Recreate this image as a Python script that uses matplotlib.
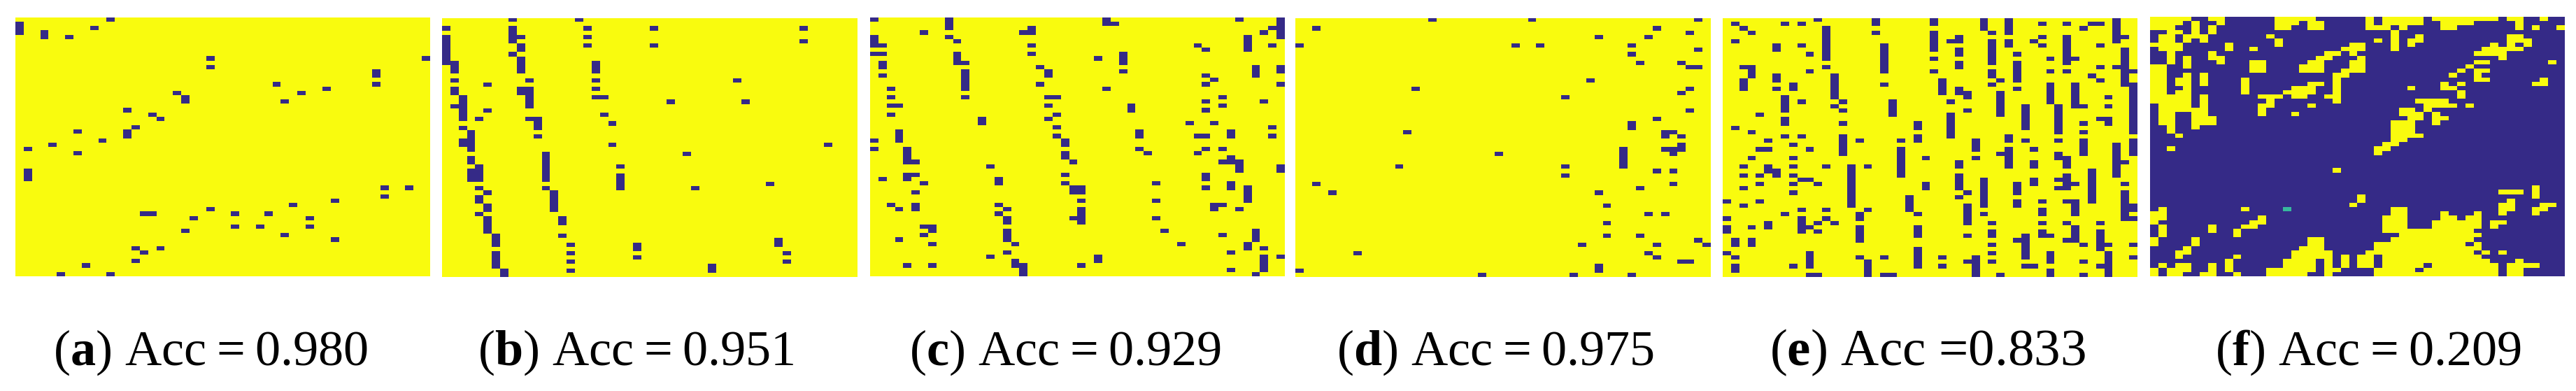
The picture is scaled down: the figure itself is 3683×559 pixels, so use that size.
import numpy as np
import matplotlib
matplotlib.use("Agg")
import matplotlib.pyplot as plt
from matplotlib.colors import ListedColormap

plt.rcParams['font.family'] = ['Liberation Serif', 'DejaVu Serif']
plt.rcParams['mathtext.fontset'] = 'custom'
plt.rcParams['mathtext.bf'] = 'Liberation Serif:bold'
plt.rcParams['mathtext.rm'] = 'Liberation Serif'

n_rows = 60
n_cols = 50

captions = ["($\\mathbf{a}$) Acc\u2009=\u20090.980", "($\\mathbf{b}$) Acc\u2009=\u20090.951", "($\\mathbf{c}$) Acc\u2009=\u20090.929",
            "($\\mathbf{d}$) Acc\u2009=\u20090.975", "($\\mathbf{e}$) Acc =0.833", "($\\mathbf{f}$) Acc\u2009=\u20090.209"]
caption_x = [301, 909, 1523, 2138, 2756, 3386]
caption_size = [52, 52, 52, 52, 54, 52]

# wrong cells as (col, first row, last row)
wrong_a = [(11,0,0),(0,1,3),(9,2,2),(3,3,4),(6,4,4),(23,9,9),(49,9,9),(23,11,11),(43,12,13),(43,15,15),
           (31,15,15),(37,16,16),(34,17,17),(19,17,17),(20,18,19),(32,19,19),(13,21,21),(16,22,22),(17,23,23),
           (14,25,25),(13,26,27),(7,26,26),(10,28,28),(4,29,29),(1,30,30),(7,31,31),(1,35,37),(44,39,39),
           (47,39,39),(44,41,41),(38,42,42),(33,43,43),(23,44,44),(15,45,45),(16,45,45),(26,45,45),(30,45,45),
           (21,46,46),(35,46,46),(26,48,48),(29,48,48),(35,48,48),(20,49,49),(32,50,50),(38,51,51),(14,53,53),
           (17,53,53),(15,54,54),(14,56,56),(8,57,57),(5,59,59),(11,59,59)]

wrong_b = [(8,0,0),(16,0,0),(0,2,2),(8,2,5),(9,4,4),(17,2,2),(17,4,4),(17,6,6),(25,2,2),(25,6,6),(43,2,2),
           (43,5,5),(0,4,10),(9,6,7),(8,8,8),(9,9,12),(1,10,12),(18,10,12),(1,14,14),(10,14,14),(18,14,14),
           (35,14,14),(5,15,15),(1,16,17),(9,16,17),(10,16,20),(18,16,16),(18,18,18),(19,18,18),(2,18,23),
           (1,20,20),(27,19,19),(36,19,19),(5,21,21),(19,22,22),(4,23,23),(10,23,23),(11,23,25),(20,24,24),
           (2,25,25),(3,26,30),(2,28,29),(11,27,27),(20,29,29),(46,29,29),(12,31,37),(29,31,31),(3,32,33),
           (4,34,37),(3,35,37),(21,34,34),(21,36,39),(39,38,38),(4,39,39),(12,39,39),(30,39,39),(5,40,40),
           (13,40,44),(4,41,42),(5,43,44),(4,45,45),(5,46,49),(14,46,47),(14,50,50),(6,50,52),(15,52,52),
           (23,52,53),(40,51,52),(15,54,54),(41,54,54),(23,55,55),(6,54,57),(15,56,56),(41,56,56),(32,57,58),
           (7,58,59),(15,58,58)]

wrong_c = [(0,0,0),(9,0,2),(28,0,1),(29,1,1),(44,0,0),(49,0,4),(19,2,3),(18,3,3),(6,3,3),(48,2,2),(47,3,3),
           (9,4,4),(10,5,5),(0,4,6),(1,6,6),(19,6,6),(39,6,6),(40,7,7),(45,4,7),(48,6,6),(0,8,8),(1,8,8),
           (19,8,8),(10,8,10),(11,10,10),(27,9,9),(30,8,10),(1,10,11),(20,11,11),(21,12,13),(46,11,13),
           (49,11,12),(30,12,12),(11,12,16),(1,13,13),(40,13,13),(41,14,14),(40,15,15),(20,15,15),(49,15,15),
           (2,16,16),(28,16,16),(2,18,18),(11,18,18),(21,18,18),(22,18,18),(42,18,18),(40,19,19),(47,19,19),
           (2,20,20),(3,20,20),(21,20,20),(42,20,20),(31,20,21),(40,21,21),(2,22,22),(22,22,22),(21,23,23),
           (13,23,24),(38,24,24),(41,24,24),(22,25,25),(48,25,25),(3,26,28),(32,26,27),(43,26,27),(22,27,27),
           (39,27,27),(40,27,27),(48,27,27),(0,28,28),(23,28,29),(0,30,30),(4,30,33),(5,33,33),(32,30,30),
           (33,31,31),(40,30,30),(39,31,31),(42,30,30),(23,31,32),(24,33,33),(43,32,33),(42,33,33),(44,33,35),
           (14,34,34),(49,34,35),(4,36,37),(5,36,36),(23,36,36),(40,36,37),(1,37,37),(15,37,38),(6,38,38),
           (23,38,38),(34,38,38),(43,38,39),(24,39,40),(25,39,40),(40,39,39),(45,39,42),(5,40,40),(25,42,42),
           (34,42,42),(2,43,43),(3,44,44),(5,43,44),(15,43,43),(16,44,44),(15,45,45),(16,46,47),(41,43,44),
           (42,43,43),(44,44,44),(25,44,47),(24,46,46),(34,46,46),(6,48,48),(7,48,49),(35,49,49),(6,50,50),
           (42,50,50),(46,49,51),(16,49,51),(3,51,51),(7,52,52),(17,52,52),(37,52,52),(45,52,53),(47,53,53),
           (16,54,54),(43,54,54),(14,55,55),(27,55,56),(49,55,55),(47,55,58),(17,56,57),(18,57,59),(4,57,57),
           (7,57,57),(25,57,57),(43,58,58),(46,59,59)]

wrong_d = [(16,0,0),(28,0,0),(48,0,0),(2,2,2),(43,2,2),(47,3,3),(36,4,4),(42,4,4),(0,6,6),(26,6,6),(29,6,6),
           (40,6,6),(48,7,7),(40,8,8),(41,10,10),(46,10,10),(47,11,11),(48,11,11),(35,14,14),(14,16,16),
           (47,16,16),(46,17,17),(32,18,18),(47,21,21),(43,23,23),(40,24,25),(13,26,26),(44,26,27),(45,26,26),
           (46,27,27),(46,29,30),(44,30,30),(45,30,31),(24,31,31),(39,30,34),(12,34,34),(32,34,34),(43,35,35),
           (45,35,35),(32,36,36),(2,38,38),(45,38,38),(41,39,39),(4,40,40),(36,40,40),(37,43,43),(42,45,45),
           (44,45,45),(37,47,47),(37,50,50),(41,50,50),(48,51,51),(34,52,52),(43,52,52),(49,52,52),(7,54,54),
           (42,54,54),(43,55,55),(46,56,56),(47,56,56),(36,57,58),(0,58,58),(22,59,59),(33,59,59),(40,59,59)]

wrong_e = [(11,0,0),(18,0,1),(25,0,1),(31,0,2),(34,0,3),(47,0,5),(1,1,1),(7,1,1),(9,1,1),(38,1,1),(41,1,1),
           (44,1,1),(45,1,1),(2,2,2),(43,2,2),(12,2,9),(3,3,3),(18,3,3),(25,3,7),(32,3,3),(28,4,5),(27,5,5),
           (38,4,4),(41,4,10),(48,4,4),(1,5,5),(37,5,5),(32,5,10),(34,5,6),(38,6,6),(6,6,7),(9,6,6),(19,6,12),
           (45,6,6),(28,7,8),(48,7,15),(10,8,8),(35,8,8),(25,9,9),(39,9,9),(42,9,9),(28,10,11),(35,10,14),
           (2,11,11),(3,11,13),(12,11,11),(45,11,11),(47,11,11),(10,12,12),(25,12,12),(39,12,12),(41,12,12),
           (49,12,12),(32,12,13),(6,13,14),(13,13,18),(44,13,13),(2,14,16),(26,14,17),(33,14,14),(45,14,14),
           (8,15,16),(19,15,15),(32,15,15),(39,15,19),(42,15,20),(43,20,20),(49,15,26),(6,16,16),(35,16,16),
           (28,16,17),(29,17,18),(33,17,22),(7,18,21),(46,18,18),(9,19,19),(14,19,19),(27,19,19),(20,19,22),
           (13,20,20),(46,20,20),(40,20,26),(36,20,25),(14,21,21),(29,21,21),(4,22,22),(27,22,27),(7,23,24),
           (45,23,23),(46,23,24),(14,24,24),(43,24,24),(23,24,25),(1,25,25),(3,26,26),(43,26,26),(7,27,27),
           (9,27,27),(14,27,31),(23,27,28),(34,27,28),(5,28,28),(16,28,28),(21,28,28),(30,28,30),(36,28,28),
           (40,28,28),(43,28,31),(49,28,31),(8,29,29),(47,29,36),(4,30,30),(5,30,30),(10,30,30),(21,30,36),
           (34,30,34),(37,30,30),(33,31,31),(40,31,32),(3,32,32),(8,32,32),(24,32,32),(30,32,32),(41,32,34),
           (28,33,34),(37,33,34),(48,33,33),(2,34,34),(5,34,35),(8,34,34),(12,34,34),(15,34,43),(17,34,34),
           (6,35,36),(44,35,42),(2,36,36),(4,36,36),(8,36,36),(28,36,39),(41,36,39),(40,37,37),(42,38,38),
           (40,39,39),(9,37,37),(10,37,37),(31,37,43),(37,37,38),(4,38,38),(8,38,38),(11,38,38),(24,38,39),
           (35,38,40),(48,38,38),(2,39,39),(8,40,40),(29,40,40),(48,40,46),(49,43,44),(49,46,46),(22,41,44),
           (28,41,41),(0,42,42),(4,42,42),(35,42,43),(38,42,42),(41,42,42),(42,42,45),(2,43,43),(29,43,47),
           (9,44,44),(12,44,44),(17,44,44),(38,44,45),(7,45,45),(23,45,45),(31,45,45),(16,45,46),(0,46,46),
           (9,46,49),(12,46,46),(11,47,47),(13,47,47),(32,47,47),(38,47,47),(41,47,47),(45,47,47),(0,48,49),
           (3,48,48),(5,47,48),(10,48,48),(16,48,51),(23,48,50),(42,48,51),(41,51,51),(11,49,49),(32,49,50),
           (38,49,50),(39,50,50),(45,49,53),(29,50,50),(36,50,55),(35,51,51),(1,51,52),(3,51,52),(32,52,52),
           (43,52,52),(46,52,52),(49,52,52),(0,54,54),(10,54,57),(23,53,57),(32,54,54),(39,54,56),(46,54,59),
           (1,55,55),(16,55,55),(19,55,55),(26,55,55),(49,55,55),(30,55,59),(29,56,56),(17,56,59),(32,56,56),
           (43,56,56),(1,57,58),(8,57,57),(26,57,57),(36,57,57),(37,57,57),(45,57,57),(39,58,59),(10,59,59),
           (11,59,59),(19,59,59),(20,59,59),(33,59,59),(43,59,59)]

# panel f is mostly wrong, so keep the correct (yellow) columns per row
right_f = ["0-4 7-8 15-19 26 28-32 34-41 43-44 47",
           "0-3 5 8 15-17 19-20 26 28-32 35-38 44",
           "0-2 5 7 15-16 19-20 26-28 30 35-36 44 46 49",
           "2-3 5 7 29",
           "1-2 4-6 14 29 32 43-44",
           "1-2 4 6 15 27 29 31-32 43-45",
           "0-3 9 15 24-25 29 31 41 43 45",
           "1-3 9 12 23-25 29 40-44",
           "2 7 21-22 24 39-42",
           "2 4 7-8 20-21 25 42",
           "2 4 8 12-13 19-20 24-25 39-40 48",
           "0-1 4 12-13 18-20 24-25 38",
           "0-1 12-13 18-20 23-25 37 39-40",
           "0-1 4 6 22-23 36 39",
           "0-1 3-4 6 11 22 39-40 47",
           "0-1 3-4 6 11 19-20 22 35 37 46-47",
           "0-1 4 11 17-19 22 31 35-36",
           "0-1 3-4 11 16-19 22 37",
           "0-4 6 13-15 17-18 21-22 37",
           "0-4 6 14 22 32-35",
           "1-4 6 13-14 19 33-36 38",
           "1-6 13 30-31 33",
           "1-2 5-6 13 17 30-32 34",
           "1-2 5-7 31-32 34-35",
           "1-2 5-7 29-31 34",
           "2 5 29-31",
           "2 29-31",
           "3 29-32",
           "29-30",
           "28-29",
           "2 27-28",
           "27",
           "", "", "",
           "22",
           "", "", "",
           "46",
           "42-44 46",
           "25 46",
           "25 43",
           "24 42-43 47-48",
           "1 11 29-30 42-43 46-47",
           "0-1 29-30 35 39 42 46",
           "0-1 13 28-30 35-36 38-39",
           "0 12-13 28-30 34-39 41-42",
           "1 7 11-12 28-30 34-39 41",
           "1 7 10 28-38",
           "1 10 30-39",
           "0 5 19-20 29-38",
           "0 5 19-20 27-37 39",
           "4 18-20 27-39",
           "3-4 17-21 26-38 40 42",
           "3 10 17-21 23 25-26 28-39",
           "9 16-19 21 23 25-26 28-40 44",
           "1 3-4 7 9 16-19 21 23 25-26 28-32 34-41 43-46",
           "0 2-4 7 9 14-19 21-22 27-31 33-41 43-44",
           "0 2-3 6-7 10 14-18 21 27-41 43-44"]
teal_f = (44, 16)

# pixel box of each panel in the 3683x559 picture: left, right, top, bottom
boxes = [(22, 615, 25, 395), (632, 1225, 26, 396.5), (1244, 1837, 25, 395),
         (1852, 2445, 26, 396.5), (2463, 3056, 26, 396.5), (3074, 3667, 24, 395)]


def grid_from_wrong(wrong):
    g = np.full((n_rows, n_cols), 2)
    for c, r0, r1 in wrong:
        g[r0:r1 + 1, c] = 0
    return g


def grid_from_right(rows, teal):
    g = np.zeros((n_rows, n_cols), dtype=int)
    for r, s in enumerate(rows):
        for part in s.split():
            a, _, b = part.partition("-")
            g[r, int(a):int(b or a) + 1] = 2
    g[teal] = 1
    return g


grids = [grid_from_wrong(w) for w in (wrong_a, wrong_b, wrong_c, wrong_d, wrong_e)]
grids.append(grid_from_right(right_f, teal_f))

cmap = ListedColormap(["#352A87", "#37B89D", "#F9FB0E"])

W, H = 3683, 559
fig = plt.figure(figsize=(W / 100, H / 100), dpi=100)

for g, box in zip(grids, boxes):
    left, right, top, bottom = box
    ax = fig.add_axes([left / W, 1 - bottom / H, (right - left) / W, (bottom - top) / H])
    ax.imshow(g, cmap=cmap, vmin=0, vmax=2, aspect='auto', interpolation='nearest')
    ax.axis('off')

for cap, x, size in zip(captions, caption_x, caption_size):
    fig.text(x / W, 1 - 522 / H, cap, ha='center', va='baseline', fontsize=size, color='black')

fig.savefig("out.png", dpi=100)
